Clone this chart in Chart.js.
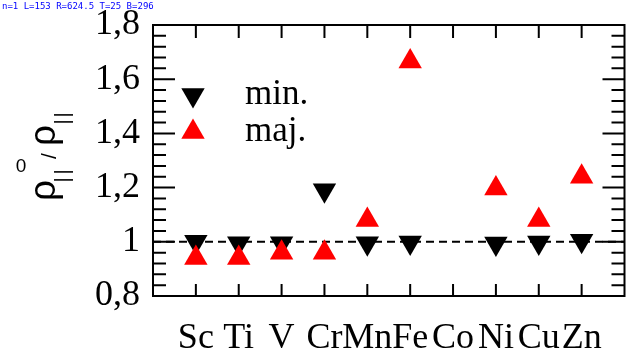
<!DOCTYPE html>
<html>
<head>
<meta charset="utf-8">
<script src="https://cdn.jsdelivr.net/npm/chart.js@4.4.0/dist/chart.umd.min.js"></script>
<style>
  html, body { margin: 0; padding: 0; background: #fff; }
</style>
</head>
<body>
<canvas id="myChart" width="638" height="352"></canvas>
<script>
// data
const elements = ['Sc', 'Ti', 'V', 'Cr', 'Mn', 'Fe', 'Co', 'Ni', 'Cu', 'Zn'];
const minVals = [1.0, 0.995, 0.995, 1.19, 0.995, 0.997, null, 0.994, 0.997, 1.004];
const majVals = [0.94, 0.94, 0.96, 0.96, 1.08, 1.665, null, 1.197, 1.08, 1.24];
const yTicks = [0.8, 1.0, 1.2, 1.4, 1.6, 1.8];
const refLevel = 1;

const serif = '"Liberation Serif", "Times New Roman", serif';
const sans = '"Liberation Sans", Arial, sans-serif';

const toPoints = vals => vals.map((v, i) => ({ x: i + 1, y: v }));

let drawCount = 0;
let info = '';

// frame + inward ticks (major and minor) on all four sides
function drawFrame(chart) {
    const c = chart.ctx;
    const sx = chart.scales.x, sy = chart.scales.y;
    const L = sx.getPixelForValue(sx.min);
    const R = sx.getPixelForValue(sx.max);
    const T = sy.getPixelForValue(sy.max);
    const B = sy.getPixelForValue(sy.min);
    info = 'n=' + drawCount + ' L=' + L + ' R=' + R + ' T=' + T + ' B=' + B;
    c.save();
    c.strokeStyle = '#000';
    c.lineWidth = 2;
    c.setLineDash([]);
    c.beginPath();
    for (let k = 0; k <= 25; k++) {
        const py = sy.getPixelForValue(0.8 + k * 0.04);
        const len = (k % 5 === 0) ? 22 : 13;
        c.moveTo(L, py); c.lineTo(L + len, py);
        c.moveTo(R, py); c.lineTo(R - len, py);
    }
    for (let i = 0; i < elements.length; i++) {
        const px = sx.getPixelForValue(i + 1);
        c.moveTo(px, B); c.lineTo(px, B - 12);
        c.moveTo(px, T); c.lineTo(px, T + 13);
    }
    c.rect(L, T, R - L, B - T);
    c.stroke();
    c.restore();
}

// legend inside the plot
function drawLegend(chart) {
    const c = chart.ctx;
    const rows = [
        { ds: chart.data.datasets[1], y: 95 },
        { ds: chart.data.datasets[0], y: 132 }
    ];
    c.save();
    rows.forEach(r => {
        c.fillStyle = r.ds.backgroundColor;
        Chart.helpers.drawPoint(c, {
            pointStyle: 'triangle',
            radius: r.ds.pointRadius,
            rotation: r.ds.pointRotation,
            borderWidth: 0
        }, 193, r.y);
        c.fillStyle = '#000';
        c.font = '35px ' + serif;
        c.textBaseline = 'alphabetic';
        c.fillText(r.ds.label, 245, r.y + 9);
    });
    c.restore();
}

// y axis title: rho_||^0 / rho_||  (the 0 stands upright as in the figure)
function drawTitle(chart) {
    const c = chart.ctx;
    c.save();
    c.fillStyle = '#000';
    c.textBaseline = 'alphabetic';
    const turned = (txt, font, x, y) => {
        c.save();
        c.translate(x, y);
        c.rotate(-Math.PI / 2);
        c.font = font;
        c.fillText(txt, 0, 0);
        c.restore();
    };
    turned('ρ', '37px ' + sans, 55, 201);
    turned('|', '20px ' + sans, 69, 182.5);
    turned('|', '20px ' + sans, 69, 174.5);
    turned('/', '21px ' + sans, 56, 159);
    turned('ρ', '37px ' + sans, 55, 146);
    turned('|', '20px ' + sans, 69, 124.5);
    turned('|', '20px ' + sans, 69, 117.5);
    c.textAlign = 'center';
    c.font = '19px ' + sans;
    c.fillText('0', 21, 172);
    c.restore();
}

const decorPlugin = {
    id: 'decor',
    afterDatasetsDraw(chart) {
        drawCount++;
        drawFrame(chart);
        drawLegend(chart);
        drawTitle(chart);
        // temporary check
        chart.ctx.save();
        chart.ctx.font = '9px monospace';
        chart.ctx.fillStyle = '#00f';
        chart.ctx.fillText(info, 2, 9);
        chart.ctx.restore();
    }
};

const chartCtx = document.getElementById('myChart').getContext('2d');
const myChart = new Chart(chartCtx, {
    type: 'scatter',
    data: {
        datasets: [{
            label: 'maj.',
            data: toPoints(majVals),
            backgroundColor: '#ff0000',
            pointStyle: 'triangle',
            pointRadius: 13.5,
            pointRotation: 0,
            pointBorderWidth: 0,
            order: 0
        }, {
            label: 'min.',
            data: toPoints(minVals),
            backgroundColor: '#000000',
            pointStyle: 'triangle',
            pointRadius: 13.5,
            pointRotation: 180,
            pointBorderWidth: 0,
            order: 1
        }, {
            type: 'line',
            label: 'ref',
            data: [{ x: 0, y: refLevel }, { x: elements.length + 1, y: refLevel }],
            borderColor: '#000',
            borderWidth: 2,
            borderDash: [8, 5],
            pointRadius: 0,
            order: 2
        }]
    },
    options: {
        responsive: false,
        animation: false,
        devicePixelRatio: 1,
        events: [],
        layout: { padding: { top: 25, right: 10, left: 0, bottom: 0 } },
        scales: {
            x: {
                type: 'linear',
                min: 0,
                max: elements.length + 1,
                grid: { display: false, drawTicks: false },
                border: { display: false },
                ticks: {
                    stepSize: 1,
                    autoSkip: false,
                    maxRotation: 0,
                    minRotation: 0,
                    padding: 21,
                    color: '#000',
                    font: { family: serif, size: 36 },
                    callback: v => elements[v - 1] || ''
                },
                afterFit: s => {
                    s.height = 56;
                    s.paddingLeft = 0;
                    s.paddingRight = 0;
                }
            },
            y: {
                min: 0.8,
                max: 1.8,
                grid: { display: false, drawTicks: false },
                border: { display: false },
                afterBuildTicks: s => { s.ticks = yTicks.map(v => ({ value: v })); },
                ticks: {
                    padding: 13,
                    color: '#000',
                    font: { family: serif, size: 36 },
                    callback: v => (Math.abs(v - 1) < 1e-9 ? '1' : v.toFixed(1).replace('.', ','))
                },
                afterFit: s => {
                    s.width = 153;
                    s.paddingTop = 0;
                    s.paddingBottom = 0;
                }
            }
        },
        plugins: {
            legend: { display: false },
            tooltip: { enabled: false }
        }
    },
    plugins: [decorPlugin]
});
</script>
</body>
</html>
